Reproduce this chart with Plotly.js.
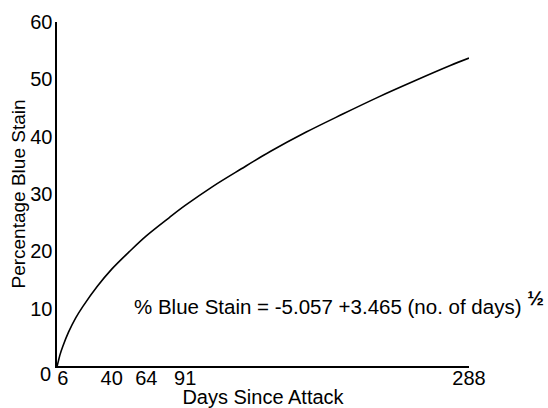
<!DOCTYPE html>
<html>
<head>
<meta charset="utf-8">
<script src="https://cdn.plot.ly/plotly-3.0.1.min.js"></script>
<style>html,body{margin:0;padding:0;background:#fff;}#chart{width:548px;height:408px;}</style>
</head>
<body>
<div id="chart"></div>
<script>
// Values
const days = [2.1, 3, 4, 6, 10, 15, 20, 30, 40, 52, 64, 80, 91, 110, 130, 150, 175, 200, 225, 250, 275, 288];
const stain = [0, 0.9, 1.9, 3.4, 5.9, 8.4, 10.4, 13.9, 16.9, 19.9, 22.7, 25.9, 28.0, 31.3, 34.4, 37.4, 40.8, 43.9, 46.9, 49.7, 52.4, 53.7];
const xTicks = [6, 40, 64, 91, 288];
const yTicks = [10, 20, 30, 40, 50, 60];
const equationText = "% Blue Stain = -5.057 +3.465 (no. of days) <sup><b><span style=\"font-size:20px\">½</span></b></sup>";

const font = "Liberation Sans, Arial, sans-serif";

Plotly.newPlot('chart', [{
  x: days, y: stain, type: 'scatter', mode: 'lines',
  line: {color: '#000', width: 1.6, shape: 'spline'},
  hoverinfo: 'none'
}], {
  width: 548, height: 408,
  margin: {l: 57, r: 79, t: 22, b: 42},
  paper_bgcolor: '#fff', plot_bgcolor: '#fff',
  showlegend: false,
  xaxis: {
    range: [2, 288], tickvals: xTicks, ticktext: xTicks.map(String),
    showgrid: false, zeroline: false, showline: true, linecolor: '#000', linewidth: 2,
    ticks: '', ticklabelstandoff: -7, tickfont: {family: font, size: 20, color: '#000'},
    title: {text: 'Days Since Attack', font: {family: font, size: 20, color: '#000'}, standoff: 0}
  },
  yaxis: {
    range: [0, 60], tickvals: yTicks, ticktext: yTicks.map(String),
    showgrid: false, zeroline: false, showline: true, linecolor: '#000', linewidth: 2.5,
    ticks: '', ticklabelstandoff: -2, tickfont: {family: font, size: 20, color: '#000'},
    title: {text: 'Percentage Blue Stain', font: {family: font, size: 19, color: '#000'}, standoff: 0}
  },
  annotations: [
    {x: 0, y: 0, xref: 'paper', yref: 'y', text: '0', showarrow: false, xanchor: 'right', yanchor: 'middle', xshift: -4, yshift: -8,
     font: {family: font, size: 20, color: '#000'}},
    {x: 54, y: 11.0, xref: 'x', yref: 'y', text: equationText, showarrow: false, xanchor: 'left', yanchor: 'middle',
     font: {family: font, size: 20.5, color: '#000'}}
  ]
}, {displayModeBar: false, staticPlot: true});
</script>
</body>
</html>
